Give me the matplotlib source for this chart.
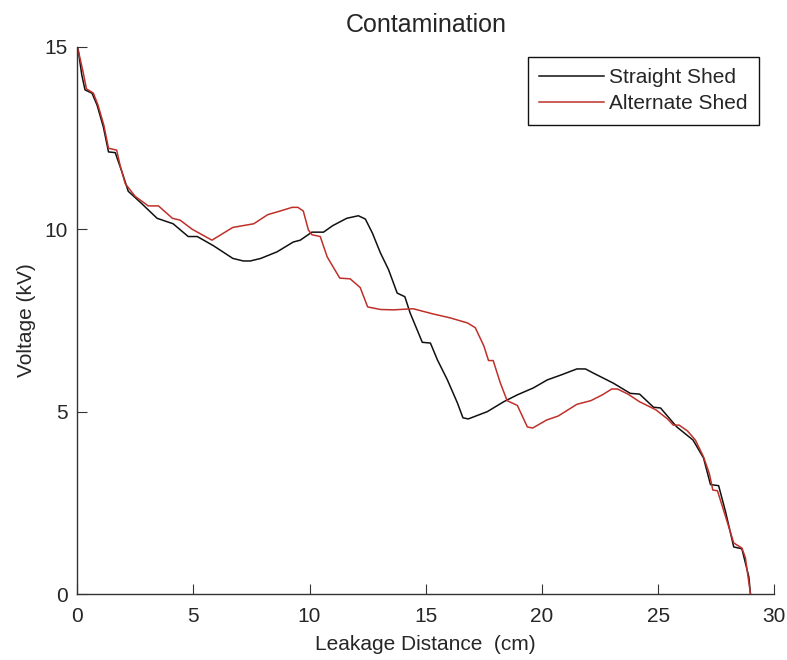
import matplotlib
matplotlib.use("Agg")
from matplotlib import pyplot as plt

# Straight Shed (black)
straight_x = [0.0, 0.05, 0.2, 0.34, 0.64, 0.86, 1.13, 1.35, 1.64, 1.94, 2.2, 2.7, 3.44,
              4.13, 4.78, 5.17, 5.86, 6.7, 7.15, 7.45, 7.9, 8.6, 9.3, 9.6, 10.1, 10.6,
              11.0, 11.6, 12.1, 12.4, 12.7, 13.05, 13.4, 13.77, 14.1, 14.33, 14.63, 14.85,
              15.2, 15.5, 15.93, 16.36, 16.6, 16.83, 17.65, 18.35, 18.94, 19.63, 20.23,
              20.8, 21.5, 21.87, 22.2, 23.07, 23.8, 24.2, 24.8, 25.1, 25.8, 26.5, 26.95,
              27.25, 27.6, 27.9, 28.25, 28.6, 28.9, 28.97]
straight_y = [15.0, 14.9, 14.23, 13.82, 13.73, 13.4, 12.8, 12.12, 12.1, 11.55, 11.04, 10.75,
              10.3, 10.15, 9.8, 9.8, 9.55, 9.2, 9.13, 9.13, 9.2, 9.38, 9.65, 9.7, 9.92, 9.92,
              10.1, 10.3, 10.37, 10.28, 9.9, 9.35, 8.89, 8.25, 8.15, 7.7, 7.24, 6.9, 6.88,
              6.42, 5.87, 5.24, 4.83, 4.8, 5.0, 5.27, 5.46, 5.65, 5.87, 6.0, 6.17, 6.17,
              6.06, 5.78, 5.5, 5.48, 5.12, 5.1, 4.58, 4.22, 3.73, 3.0, 2.97, 2.25, 1.29,
              1.24, 0.47, 0.0]

# Alternate Shed (red)
alternate_x = [0.0, 0.05, 0.26, 0.4, 0.7, 0.9, 1.15, 1.35, 1.7, 1.85, 2.07, 2.5, 3.06, 3.5,
               4.1, 4.43, 4.95, 5.8, 6.7, 7.6, 8.2, 8.74, 9.25, 9.5, 9.73, 9.95, 10.1, 10.46,
               10.76, 11.3, 11.75, 12.18, 12.5, 13.05, 13.6, 14.46, 15.3, 16.05, 16.8, 17.13,
               17.5, 17.7, 17.9, 18.2, 18.5, 18.94, 19.37, 19.6, 20.2, 20.7, 21.5, 22.1,
               22.6, 23.0, 23.25, 23.7, 24.2, 24.9, 25.4, 25.65, 25.9, 26.26, 26.6, 26.95,
               27.2, 27.35, 27.55, 27.9, 28.25, 28.6, 28.75, 28.97]
alternate_y = [15.0, 14.9, 14.3, 13.85, 13.73, 13.4, 12.85, 12.22, 12.17, 11.75, 11.25, 10.9,
               10.64, 10.64, 10.3, 10.25, 10.0, 9.7, 10.05, 10.15, 10.4, 10.5, 10.6, 10.6,
               10.5, 9.98, 9.85, 9.8, 9.24, 8.66, 8.64, 8.4, 7.87, 7.8, 7.79, 7.82, 7.68,
               7.57, 7.43, 7.3, 6.8, 6.4, 6.4, 5.8, 5.3, 5.17, 4.58, 4.55, 4.77, 4.88, 5.2,
               5.3, 5.46, 5.62, 5.62, 5.48, 5.27, 5.05, 4.8, 4.63, 4.63, 4.47, 4.22, 3.76,
               3.3, 2.85, 2.83, 2.12, 1.4, 1.26, 1.0, 0.0]

txt = "#262626"
plt.rcParams['font.family'] = ['Liberation Sans', 'DejaVu Sans']
plt.rcParams['font.size'] = 15

fig = plt.figure(figsize=(7.87, 6.6), dpi=100)
ax = fig.add_axes([0.098, 0.1, 0.886, 0.829])

ax.plot(straight_x, straight_y, color="#111111", lw=1.1, label="Straight Shed")
ax.plot(alternate_x, alternate_y, color="#c0302a", lw=1.1, label="Alternate Shed")

ax.set_xlim(0, 30)
ax.set_ylim(0, 15)
ax.set_xticks([0, 5, 10, 15, 20, 25, 30])
ax.set_yticks([0, 5, 10, 15])
ax.spines['top'].set_visible(False)
ax.spines['right'].set_visible(False)
for s in ('left', 'bottom'):
    ax.spines[s].set_color("#333333")
    ax.spines[s].set_linewidth(1.0)
ax.tick_params(direction='in', length=7, color="#333333", labelcolor=txt)
ax.tick_params(axis='x', pad=9)
ax.tick_params(axis='y', pad=7)

ax.set_title("Contamination", color=txt, pad=11)
ax.set_xlabel("Leakage Distance  (cm)", color=txt, labelpad=6.5)
ax.set_ylabel("Voltage (kV)", color=txt, labelpad=6)

leg = ax.legend(loc="upper right", bbox_to_anchor=(0.978, 0.982), fancybox=False,
                edgecolor="#111111", framealpha=1, borderaxespad=0, handlelength=3.1,
                handletextpad=0.25, labelspacing=0.35, borderpad=0.55)
leg.get_frame().set_linewidth(1.0)
for t in leg.get_texts():
    t.set_color(txt)

fig.savefig("out.png", dpi=100)
